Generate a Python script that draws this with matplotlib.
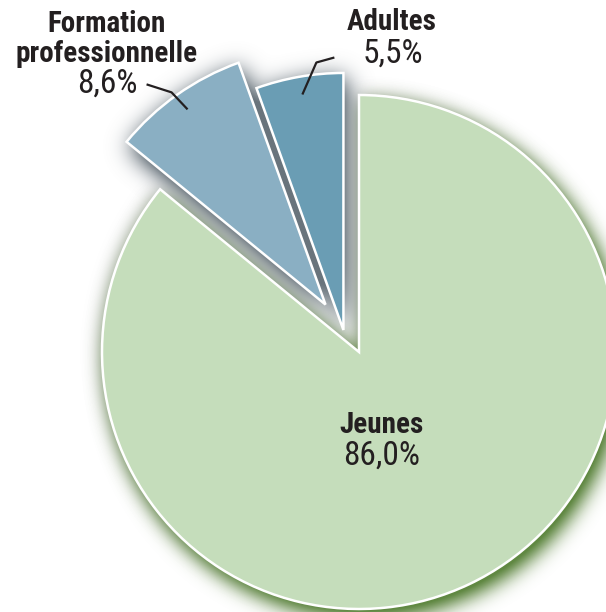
import numpy as np
import matplotlib.pyplot as plt
from matplotlib import font_manager

# data
names = ['Jeunes', 'Formation professionnelle', 'Adultes']
shares = [86.0, 8.6, 5.5]
colors = ['#c5ddbb', '#8aafc3', '#6a9db4']

# style / layout
pull = [0.0, 0.226, 0.105]          # how far each slice is pulled out (fraction of radius)
center = (359, 260)
radius = 257
ink = '#231f20'
W, H = 606, 612

installed = {f.name for f in font_manager.fontManager.ttflist}
if 'Roboto Condensed' in installed:
    fonts, size, psize = ['Roboto Condensed', 'DejaVu Sans'], 21, 24
else:
    fonts, size, psize = ['Roboto', 'DejaVu Sans'], 19, 21


def pct(v):
    return f'{v:.1f}%'.replace('.', ',')


# pixel grid (with a margin so the blur does not fade at the borders)
pad = 60
gx = np.arange(-pad, W + pad) + 0.5
gy = np.arange(-pad, H + pad) + 0.5
GX, GY = np.meshgrid(gx, gy)
pts = np.column_stack([GX.ravel(), GY.ravel()])


def blur(a, sigma):
    k = np.arange(-3 * sigma, 3 * sigma + 1)
    k = np.exp(-0.5 * (k / sigma) ** 2)
    k /= k.sum()
    a = np.apply_along_axis(lambda r: np.convolve(r, k, mode='same'), 1, a)
    a = np.apply_along_axis(lambda c: np.convolve(c, k, mode='same'), 0, a)
    return a


def shadow(ax, ws, rgb, dx, dy, sigma, strength):
    m = np.zeros(GX.shape)
    for w in ws:
        inside = w.get_path().contains_points(pts - [dx, dy])
        m = np.maximum(m, inside.reshape(GX.shape))
    m = blur(m, sigma)
    img = np.zeros(GX.shape + (4,))
    img[..., :3] = np.array(rgb) / 255
    img[..., 3] = np.clip(strength * m, 0, 1)
    ax.imshow(img, extent=(gx[0] - 0.5, gx[-1] + 0.5, gy[0] - 0.5, gy[-1] + 0.5),
              origin='lower', interpolation='bilinear', zorder=0.5)


fig = plt.figure(figsize=(6.06, 6.12), dpi=100)
ax = fig.add_axes([0, 0, 1, 1])

wedges, _ = ax.pie(shares, colors=colors, startangle=90, counterclock=False,
                   center=center, radius=radius, normalize=True,
                   wedgeprops=dict(edgecolor='white', linewidth=1.8, zorder=2))

# blue slices are pulled out along the bisector of the "Formation" slice
w_f = wedges[1]
bis = np.deg2rad((w_f.theta1 + w_f.theta2) / 2)
for w, p in zip(wedges, pull):
    w.set_center((center[0] + p * radius * np.cos(bis),
                  center[1] + p * radius * np.sin(bis)))

# soft shadows under the slices
shadow(ax, wedges[:1], (150, 152, 150), -2, 0, 8, 0.7)
shadow(ax, wedges[:1], (96, 136, 66), 6, -9, 10, 1.3)
shadow(ax, wedges[1:], (105, 116, 124), 3, -6, 12, 1.6)

# labels
txt = dict(ha='center', va='baseline', color=ink, family=fonts, fontsize=size)
ax.text(107, 580, 'Formation', fontweight='bold', **txt)
ax.text(107, 550, 'professionnelle', fontweight='bold', **txt)
ax.text(392, 582, names[2], fontweight='bold', **txt)
ax.text(381, 179, names[0], fontweight='bold', **txt)
txt['fontsize'] = psize
ax.text(107, 519, pct(shares[1]), **txt)
ax.text(393, 549, pct(shares[2]), **txt)
ax.text(382, 147, pct(shares[0]), **txt)

# leader lines, ending inside the pulled-out slices
for w, bend in [(wedges[1], [(-41, 25), (-16, 17)]),
                (wedges[2], [(32, 37), (14, 32)])]:
    b = np.deg2rad((w.theta1 + w.theta2) / 2)
    ex = w.center[0] + 0.93 * w.r * np.cos(b)
    ey = w.center[1] + 0.93 * w.r * np.sin(b)
    xs = [ex + bend[0][0], ex + bend[1][0], ex]
    ys = [ey + bend[0][1], ey + bend[1][1], ey]
    ax.plot(xs, ys, color=ink, linewidth=1.6, zorder=3, solid_capstyle='butt')

ax.set_xlim(0, W)
ax.set_ylim(0, H)
ax.set_aspect('equal')
ax.axis('off')

fig.savefig('out.png', dpi=100)
